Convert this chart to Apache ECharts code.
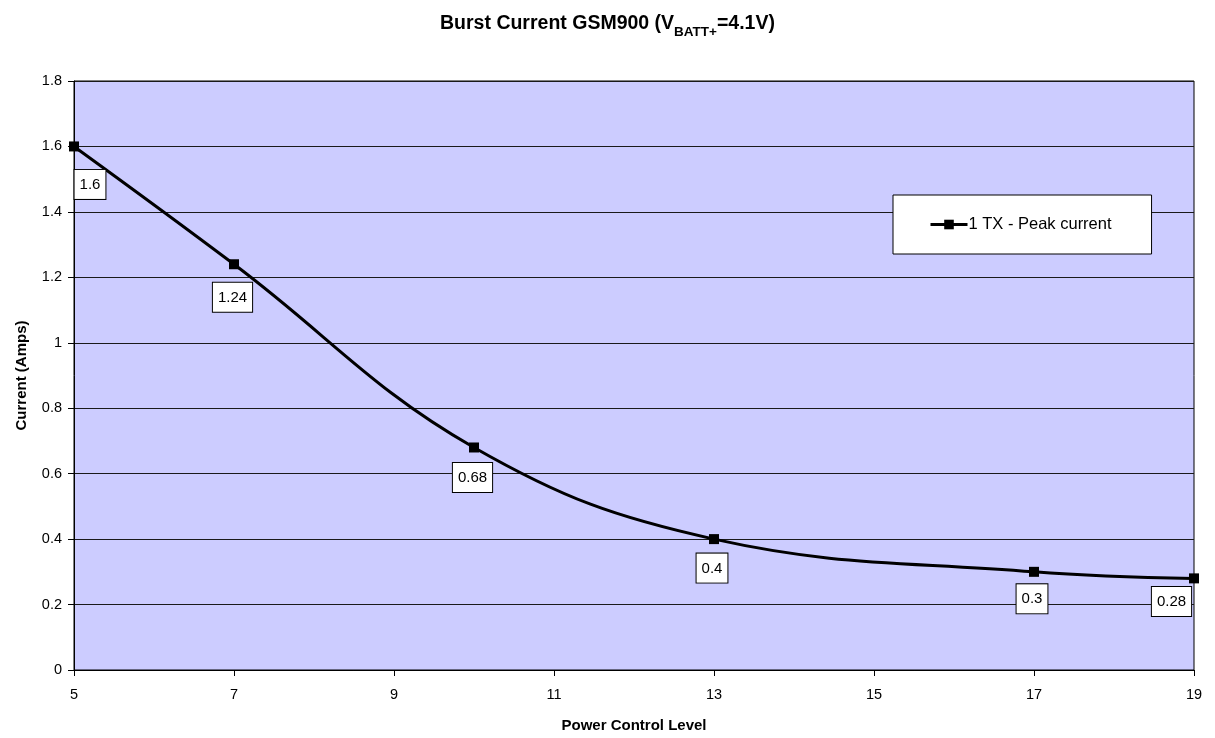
<!DOCTYPE html>
<html>
<head>
<meta charset="utf-8">
<script src="https://cdn.jsdelivr.net/npm/echarts@6/dist/echarts.min.js"></script>
<style>html,body{margin:0;padding:0;background:#fff;}#c{width:1215px;height:738px;}</style>
</head>
<body>
<div id="c"></div>
<script>
const powerLevels = [5, 7, 10, 13, 17, 19];
const peakCurrent = [1.6, 1.24, 0.68, 0.4, 0.3, 0.28];
const xTickLabels = [5, 7, 9, 11, 13, 15, 17, 19];
const seriesName = '1 TX - Peak current';

// label placement tweaks (style only, per point index)
const labelOffsets = [[16, 8.5], [-1.5, 3.5], [-1.5, 0.5], [-2, -0.5], [-2, -2.5], [-22.5, -6.5]];

const font = 'Liberation Sans, Arial, sans-serif';
const seriesData = powerLevels.map((x, i) => ({
  value: [x, peakCurrent[i]],
  label: { offset: labelOffsets[i] }
}));

const chart = echarts.init(document.getElementById('c'));
chart.setOption({
  animation: false,
  backgroundColor: '#fff',
  textStyle: { fontFamily: font },
  title: {
    text: '{t|Burst Current GSM900 (V}{s|BATT+}{t|=4.1V)}',
    left: 'center',
    top: 5,
    textStyle: {
      rich: {
        t: { fontFamily: font, fontWeight: 'bold', fontSize: 19.5, color: '#000', verticalAlign: 'bottom', lineHeight: 24 },
        s: { fontFamily: font, fontWeight: 'bold', fontSize: 13.5, color: '#000', verticalAlign: 'bottom', lineHeight: 18, padding: [0,0,-5,0] }
      }
    }
  },
  grid: {
    left: 74, right: 21, top: 81, bottom: 67,
    show: true,
    backgroundColor: '#CCCCFF',
    borderColor: '#000',
    borderWidth: 1
  },
  legend: {
    left: 893, top: 195,
    padding: [21, 40, 21, 36],
    backgroundColor: '#fff',
    borderColor: '#000',
    borderWidth: 1,
    itemWidth: 37, itemHeight: 12,
    itemGap: 4,
    lineStyle: { width: 3 },
    textStyle: { fontFamily: font, fontSize: 16.5, color: '#000', padding: [0,0,0,-4] },
    data: [seriesName]
  },
  xAxis: {
    type: 'value',
    min: 5, max: 19,
    name: 'Power Control Level',
    nameLocation: 'middle',
    nameGap: 48,
    nameTextStyle: { fontFamily: font, fontWeight: 'bold', fontSize: 15, color: '#000' },
    axisLine: { lineStyle: { color: '#000', width: 1 } },
    axisTick: { show: true, length: 6, lineStyle: { color: '#000' }, customValues: xTickLabels },
    axisLabel: { fontFamily: font, fontSize: 14.5, color: '#000', margin: 17, customValues: xTickLabels },
    splitLine: { show: false }
  },
  yAxis: {
    type: 'value',
    min: 0, max: 1.8, interval: 0.2,
    name: 'Current (Amps)',
    nameLocation: 'middle',
    nameGap: 45,
    nameRotate: 90,
    nameTextStyle: { fontFamily: font, fontWeight: 'bold', fontSize: 15, color: '#000' },
    axisLine: { show: true, lineStyle: { color: '#000', width: 1 } },
    axisTick: { show: true, length: 6, lineStyle: { color: '#000' } },
    axisLabel: { fontFamily: font, fontSize: 14.5, color: '#000', margin: 12, formatter: v => String(+v.toFixed(1)) },
    splitLine: { show: true, lineStyle: { color: '#1a1a1a', width: 1 } }
  },
  series: [{
    name: seriesName,
    type: 'line',
    data: seriesData,
    smooth: 0.4,
    symbol: 'rect',
    symbolSize: 10,
    clip: false,
    itemStyle: { color: '#000' },
    lineStyle: { color: '#000', width: 3 },
    label: {
      show: true,
      position: 'bottom',
      distance: 10,
      formatter: p => String(p.value[1]),
      fontFamily: font,
      fontSize: 15,
      lineHeight: 16,
      color: '#000',
      backgroundColor: '#fff',
      borderColor: '#000',
      borderWidth: 1,
      padding: [7, 5, 6, 5]
    }
  }]
});
</script>
</body>
</html>
